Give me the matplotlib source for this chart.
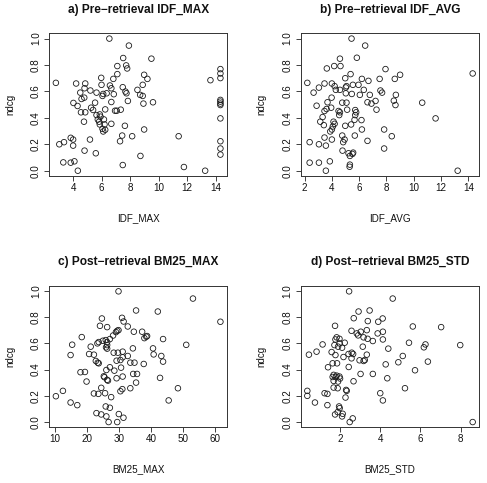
import matplotlib
matplotlib.use("Agg")
import matplotlib.pyplot as plt
import numpy as np

plt.rcParams['font.family'] = ['Liberation Sans', 'DejaVu Sans']

# ---------------- data ----------------
# a) Pre-retrieval IDF_MAX
idf_max = [2.79, 6.54, 7.91, 7.51, 7.1, 7.72, 7.79, 7.1, 5.97, 6.82, 4.21, 4.85, 5.99, 4.8, 6.58,
           6.68, 4.5, 5.21, 5.64, 6.11, 6.06, 6.35, 6.85, 7.48, 7.67, 7.74, 7.84, 4.78, 4.02, 4.59,
           4.31, 4.85, 5.26, 5.4, 5.54, 4.55, 5.64, 5.87, 5.92, 6.25, 5.73, 5.82, 5.87, 6.16, 6.2,
           6.06, 6.25, 6.11, 6.68, 6.94, 7.06, 7.34, 6.68, 4.76, 7.63, 7.44, 7.29, 5.18, 3.83, 4.0,
           3.03, 3.36, 4.0, 4.8, 5.59, 3.31, 3.83, 4.09, 4.33, 7.48,
           9.49, 8.98, 9.21, 8.88, 8.51, 8.7, 8.88, 8.93, 9.6, 8.14, 8.98, 8.72, 11.4, 11.77, 13.26,
           13.63, 14.33, 14.33, 14.33, 14.33, 14.33, 14.33, 14.33, 14.33, 14.33, 14.33, 14.33]
ndcg_a = [0.665, 1.0, 0.947, 0.853, 0.792, 0.797, 0.774, 0.731, 0.703, 0.695, 0.66, 0.66, 0.65, 0.624, 0.645,
          0.624, 0.591, 0.607, 0.591, 0.581, 0.566, 0.586, 0.579, 0.632, 0.599, 0.586, 0.528, 0.553, 0.513, 0.543,
          0.49, 0.442, 0.477, 0.46, 0.515, 0.442, 0.421, 0.426, 0.409, 0.464, 0.388, 0.371, 0.35, 0.388, 0.35,
          0.317, 0.31, 0.297, 0.355, 0.454, 0.454, 0.462, 0.52, 0.371, 0.34, 0.266, 0.223, 0.236, 0.249, 0.236,
          0.2, 0.216, 0.19, 0.152, 0.132, 0.063, 0.061, 0.071, 0.0, 0.043,
          0.848, 0.726, 0.695, 0.65, 0.612, 0.574, 0.566, 0.508, 0.518, 0.261, 0.312, 0.112, 0.261, 0.028, 0.0,
          0.685, 0.769, 0.736, 0.701, 0.536, 0.523, 0.508, 0.497, 0.396, 0.223, 0.168, 0.122]

# b) Pre-retrieval IDF_AVG
idf_avg = [7.93, 7.5, 8.61, 9.0, 7.56, 7.68, 8.69, 8.54, 8.66, 10.62, 11.6, 7.83, 8.39, 7.83, 13.22, 14.32,
           5.44, 6.44, 4.59, 5.83, 3.63, 4.17, 4.63, 5.37, 2.2, 2.66, 3.05, 3.46, 4.0, 4.2, 4.29, 4.98,
           5.07, 5.02, 4.59, 5.54, 5.95, 6.2, 6.68, 6.34, 6.05, 5.46, 5.02, 6.78, 3.98, 3.68, 2.88, 6.61,
           6.9, 7.2, 7.27, 3.61, 3.95, 4.49, 4.59, 4.54, 5.07, 5.12, 4.76, 5.71, 5.78, 5.71, 6.17, 3.46,
           3.32, 3.15, 3.41, 4.12, 4.2, 4.07, 4.0, 3.88, 4.98, 5.41, 5.66, 6.2, 5.68, 4.76, 6.61, 3.46,
           2.37, 3.05, 3.56, 4.0, 4.93, 4.83, 4.78, 5.22, 5.51, 5.56, 5.32, 2.37, 3.05, 3.85, 3.56, 5.32, 5.3]
ndcg_b = [0.769, 0.695, 0.695, 0.726, 0.607, 0.591, 0.574, 0.53, 0.497, 0.515, 0.396, 0.312, 0.261, 0.168, 0.0, 0.736,
          1.0, 0.947, 0.848, 0.855, 0.774, 0.792, 0.792, 0.731, 0.665, 0.591, 0.629, 0.66, 0.66, 0.64, 0.612, 0.7,
          0.64, 0.63, 0.612, 0.65, 0.65, 0.695, 0.68, 0.612, 0.574, 0.581, 0.586, 0.574, 0.553, 0.518, 0.492, 0.518,
          0.508, 0.528, 0.462, 0.467, 0.477, 0.452, 0.442, 0.421, 0.515, 0.462, 0.515, 0.459, 0.442, 0.421, 0.383, 0.452,
          0.406, 0.371, 0.345, 0.371, 0.355, 0.335, 0.312, 0.297, 0.34, 0.35, 0.385, 0.312, 0.266, 0.266, 0.226, 0.251,
          0.216, 0.2, 0.19, 0.236, 0.236, 0.216, 0.152, 0.132, 0.127, 0.137, 0.112, 0.061, 0.061, 0.071, 0.0, 0.046, 0.03]

# c) Post-retrieval BM25_MAX
bm25_max = [53.1, 61.7, 35.3, 42.1, 34.6, 37.2, 38.5, 38.75, 37.9, 43.75, 51.0, 34.3, 40.6, 40.8, 43.2,
            43.75, 33.5, 34.8, 37.7, 34.4, 35.6, 35.3, 33.5, 42.8, 48.4, 45.5,
            29.8, 24.6, 30.9, 31.4, 24.0, 26.25, 32.7, 29.4, 29.8, 29.0, 18.3, 24.9, 25.8, 26.25, 23.2,
            23.6, 26.25, 25.9, 26.25, 27.1, 28.1, 15.3, 21.1, 14.8, 20.6, 22.1, 22.7, 23.3, 23.6, 28.3,
            29.6, 31.1, 31.1, 30.4, 29.2, 32.7, 17.9, 19.3, 19.8, 27.1, 26.0, 28.5, 30.6, 25.2, 25.4,
            26.25, 26.5, 29.2, 31.1, 24.4, 22.1, 23.5, 25.6, 27.5, 30.4, 31.0, 10.2, 12.4, 14.8, 16.9,
            22.9, 24.4, 25.8, 27.1, 26.0, 26.7, 29.9, 29.4, 31.35]
ndcg_c = [0.942, 0.765, 0.851, 0.843, 0.689, 0.689, 0.651, 0.656, 0.64, 0.633, 0.589, 0.562, 0.562, 0.516, 0.504,
          0.461, 0.453, 0.453, 0.443, 0.367, 0.367, 0.301, 0.258, 0.337, 0.258, 0.165,
          0.997, 0.79, 0.795, 0.767, 0.734, 0.724, 0.729, 0.696, 0.701, 0.686, 0.648, 0.62, 0.625, 0.61, 0.6,
          0.61, 0.587, 0.57, 0.56, 0.633, 0.66, 0.59, 0.575, 0.511, 0.519, 0.514, 0.466, 0.453, 0.448, 0.529,
          0.529, 0.537, 0.494, 0.473, 0.468, 0.504, 0.38, 0.382, 0.309, 0.418, 0.397, 0.392, 0.415, 0.349, 0.342,
          0.322, 0.316, 0.334, 0.347, 0.261, 0.218, 0.215, 0.22, 0.19, 0.235, 0.251, 0.197, 0.238, 0.149, 0.129,
          0.068, 0.058, 0.119, 0.109, 0.043, 0.0, 0.061, 0.0, 0.033]

# d) Post-retrieval BM25_STD
bm25_std = [4.62, 4.12, 5.62, 7.03, 4.13, 4.13, 5.43, 6.25, 6.17, 7.98, 4.4, 5.12, 4.9, 6.37, 4.27, 5.73,
            4.35, 5.23, 4.0, 4.13, 8.6,
            2.45, 3.47, 2.92, 2.68, 3.38, 3.9, 1.75, 2.57, 2.83, 2.9, 3.03, 3.33, 3.87, 1.83, 1.77, 1.97,
            1.72, 1.98, 1.9, 2.1, 2.23, 3.17, 3.37, 3.63, 3.13, 1.13, 0.83, 0.45, 1.58, 1.77, 2.17, 2.42,
            2.58, 2.65, 2.57, 3.33, 2.97, 3.17, 3.23, 1.4, 1.63, 1.85, 2.43, 1.68, 1.63, 1.83, 1.78, 1.97,
            2.0, 1.68, 1.9, 1.68, 1.88, 2.67, 3.02, 3.63, 2.3, 2.33, 0.37, 0.37, 1.23, 1.37, 2.27, 0.75,
            1.37, 1.95, 1.98, 1.75, 1.88, 2.13, 2.1, 2.63, 2.48]
ndcg_d = [0.942, 0.79, 0.729, 0.724, 0.689, 0.63, 0.605, 0.592, 0.57, 0.587, 0.56, 0.504, 0.456, 0.461, 0.44, 0.395,
          0.334, 0.258, 0.22, 0.165, 0.0,
          0.997, 0.851, 0.843, 0.792, 0.77, 0.765, 0.734, 0.696, 0.676, 0.661, 0.689, 0.701, 0.676, 0.646, 0.63, 0.635,
          0.587, 0.6, 0.575, 0.567, 0.605, 0.646, 0.635, 0.618, 0.575, 0.592, 0.537, 0.514, 0.534, 0.511, 0.496, 0.519,
          0.529, 0.519, 0.486, 0.514, 0.471, 0.466, 0.473, 0.418, 0.448, 0.448, 0.42, 0.36, 0.344, 0.354, 0.344, 0.347,
          0.332, 0.314, 0.309, 0.263, 0.258, 0.311, 0.367, 0.367, 0.245, 0.238, 0.238, 0.2, 0.22, 0.215, 0.187, 0.149,
          0.129, 0.119, 0.106, 0.058, 0.076, 0.063, 0.043, 0.028, 0.0]

titles = ["a) Pre\u2212retrieval IDF_MAX", "b) Pre\u2212retrieval IDF_AVG",
          "c) Post\u2212retrieval BM25_MAX", "d) Post\u2212retrieval BM25_STD"]
xlabels = ["IDF_MAX", "IDF_AVG", "BM25_MAX", "BM25_STD"]
xticks = [[4, 6, 8, 10, 12, 14], [2, 4, 6, 8, 10, 12, 14], [10, 20, 30, 40, 50, 60], [2, 4, 6, 8]]
yticks = [0.0, 0.2, 0.4, 0.6, 0.8, 1.0]

panels = [(idf_max, ndcg_a), (idf_avg, ndcg_b), (bm25_max, ndcg_c), (bm25_std, ndcg_d)]

# ---------------- layout ----------------
W, H = 487, 483
fig = plt.figure(figsize=(W / 100, H / 100), dpi=100)
boxes = [(49.3, 33.3, 227.0, 176.0), (300.7, 33.3, 479.3, 176.0),
         (49.3, 285.7, 227.0, 427.3), (300.7, 285.7, 479.3, 427.3)]

txt = '#111111'
for i, ((xs, ys), (l, t, r, b)) in enumerate(zip(panels, boxes)):
    ax = fig.add_axes([l / W, 1 - b / H, (r - l) / W, (b - t) / H])
    ax.scatter(xs, ys, s=16, facecolors='none', edgecolors='#1a1a1a', linewidths=0.6)
    x0, x1 = min(xs), max(xs)
    dx = (x1 - x0) * 0.04
    ax.set_xlim(x0 - dx, x1 + dx)
    ax.set_ylim(-0.04, 1.04)
    ax.set_xticks(xticks[i])
    ax.set_xticklabels([str(v) for v in xticks[i]])
    ax.set_yticks(yticks)
    ax.set_yticklabels(["%.1f" % v for v in yticks])
    for lab in ax.get_yticklabels():
        lab.set_rotation(90)
        lab.set_va('center')
    ax.tick_params(direction='out', length=3.6, width=0.6, labelsize=7.1,
                   colors='#222222', labelcolor=txt, pad=1.5)
    ax.tick_params(axis='y', pad=2.5)
    for sp in ax.spines.values():
        sp.set_linewidth(0.7)
        sp.set_color('#333333')
    ph = b - t
    pw = r - l
    ax.text(0.5, 1 + 23.5 / ph, titles[i], transform=ax.transAxes, ha='center', va='center',
            fontsize=8.6, fontweight='bold', color=txt)
    ax.text(0.5, -42.0 / ph, xlabels[i], transform=ax.transAxes, ha='center', va='center',
            fontsize=7.1, color=txt)
    ax.text(-39.0 / pw, 0.5, "ndcg", transform=ax.transAxes, ha='center', va='center',
            rotation=90, fontsize=7.1, color=txt)

fig.savefig("out.png", dpi=100)
